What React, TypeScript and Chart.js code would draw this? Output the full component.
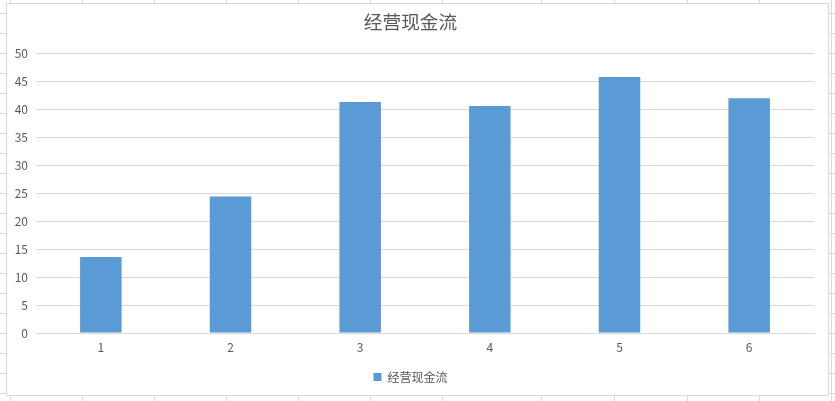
import React, { useEffect, useRef } from "react";
import { Chart, registerables } from "chart.js";

Chart.register(...registerables);

const title = "经营现金流";
const categories = ["1", "2", "3", "4", "5", "6"];
const cashFlow = [13.6, 24.4, 41.3, 40.6, 45.8, 42.0];

// worksheet column lines behind the chart (decoration only)
const sheetColumns = [10, 82, 154, 226, 298, 370, 442, 541, 614, 687, 759, 831];

const FONT = "'Noto Sans CJK SC', 'Noto Sans', sans-serif";
const TEXT = "#595959";
const GRID = "#d9d9d9";
const BAR = "#5b9bd5";

const CashFlowChart = () => {
    const canvasRef = useRef<HTMLCanvasElement | null>(null);

    useEffect(() => {
        const ctx = canvasRef.current?.getContext("2d");
        if (!ctx) return;

        const chart = new Chart(ctx, {
            type: "bar",
            data: {
                labels: categories,
                datasets: [
                    {
                        label: title,
                        data: cashFlow,
                        backgroundColor: BAR,
                        borderWidth: 0,
                        barPercentage: 0.32,
                        categoryPercentage: 1,
                    },
                ],
            },
            options: {
                animation: false,
                responsive: true,
                maintainAspectRatio: false,
                layout: { padding: { top: 0, left: 0, right: 14, bottom: 2 } },
                plugins: {
                    title: {
                        display: true,
                        text: title,
                        color: TEXT,
                        font: { family: FONT, size: 18.67, weight: "normal" },
                        padding: { top: 7, bottom: 20 },
                    },
                    legend: {
                        position: "bottom",
                        labels: {
                            color: TEXT,
                            boxWidth: 8,
                            boxHeight: 8,
                            padding: 16,
                            font: { family: FONT, size: 12 },
                        },
                    },
                    tooltip: { enabled: false },
                },
                scales: {
                    x: {
                        grid: { display: false, drawTicks: false, tickLength: 0 },
                        border: { display: true, color: GRID },
                        ticks: { color: TEXT, padding: 7.5, font: { family: FONT, size: 12 } },
                        afterFit: (scale: any) => {
                            scale.height = 22;
                        },
                    },
                    y: {
                        min: 0,
                        max: 50,
                        ticks: { stepSize: 5, color: TEXT, padding: 8, font: { family: FONT, size: 12 } },
                        grid: { color: GRID, drawTicks: false },
                        border: { display: false },
                        afterFit: (scale: any) => {
                            scale.width = 29;
                        },
                    },
                },
            },
        });

        return () => {
            chart.destroy();
        };
    }, []);

    return <canvas ref={canvasRef} />;
};

const App = () => {
    return (
        <div
            style={{
                position: "fixed",
                left: 0,
                top: 0,
                width: 835,
                height: 401,
                overflow: "hidden",
                background:
                    "repeating-linear-gradient(180deg, #fff 0px, #fff 13px, #dadada 13px, #dadada 14px, #fff 14px, #fff 20px)",
            }}
        >
            {sheetColumns.map((x) => (
                <div
                    key={x}
                    style={{ position: "absolute", left: x, top: 0, width: 1, height: 401, background: "#dadada" }}
                />
            ))}
            <div
                style={{
                    position: "absolute",
                    left: 6,
                    top: 3,
                    width: 823,
                    height: 393,
                    boxSizing: "border-box",
                    border: "1px solid #d9d9d9",
                    background: "#fff",
                }}
            >
                <div style={{ position: "relative", width: 821, height: 391 }}>
                    <CashFlowChart />
                </div>
            </div>
        </div>
    );
};

export default App;
